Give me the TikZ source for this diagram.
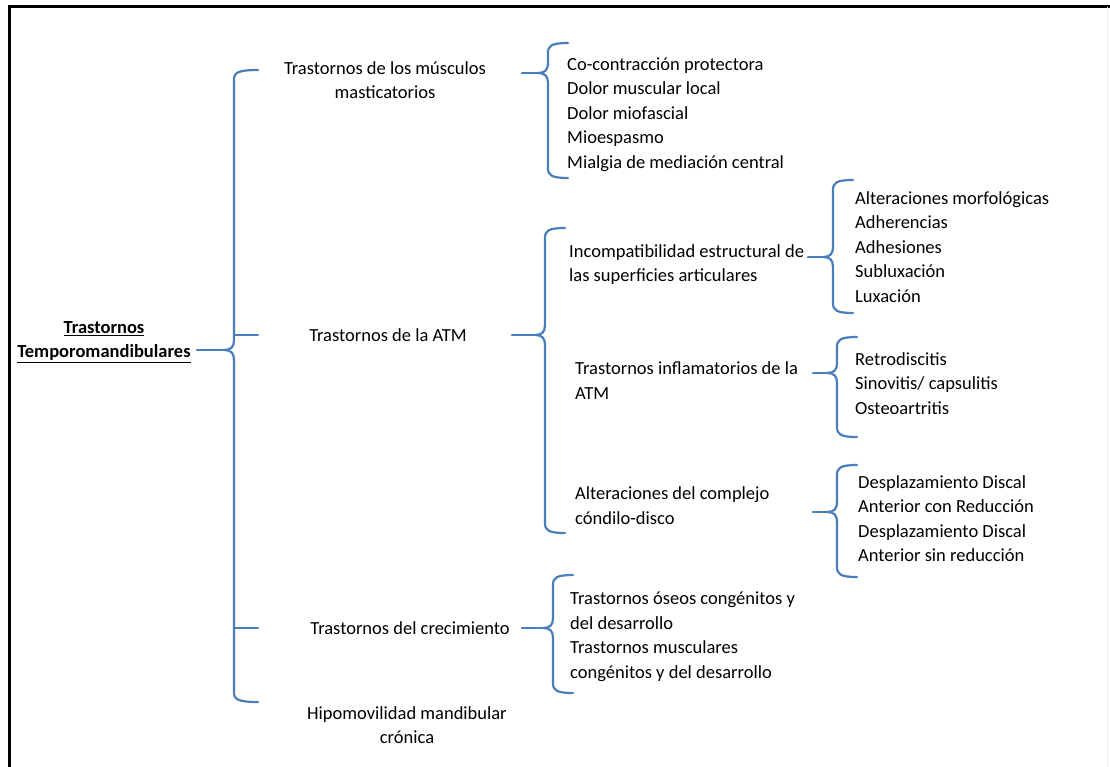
\documentclass[tikz,border=0pt]{standalone}
\usepackage{fontspec}
\setmainfont{Carlito}
\definecolor{braceblue}{HTML}{4A7EBB}

% curly brace: x, top, bottom, cusp, hook length
\newcommand{\curly}[5]{%
  \draw[brace] ({#1+#5},#2) .. controls ({#1+3},#2) and (#1,{#2+3}) .. (#1,{#2+10})
    -- (#1,{#4-10}) .. controls (#1,{#4-3}) and ({#1-3},#4) .. ({#1-10},#4)
    .. controls ({#1-3},#4) and (#1,{#4+3}) .. (#1,{#4+10})
    -- (#1,{#3-10}) .. controls (#1,{#3-3}) and ({#1+3},#3) .. ({#1+#5},#3);}

\begin{document}
\begin{tikzpicture}[x=1pt,y=-1pt,
    brace/.style={draw=braceblue,line width=2.2pt,line cap=round,line join=round},
    plain/.style={font=\fontsize{18.5}{24.5}\selectfont,inner sep=0pt},
    heading/.style={plain,align=center},
    itemlist/.style={plain,align=left,anchor=west}]
    \useasboundingbox (0,0) rectangle (1110,767);

    % Draw the frame
    \draw[line width=3pt] (9,780) -- (9,7) -- (1120,7);
    \draw[black!6,line width=0.8pt] (1107,7) -- (1107,780);

    % Root
    \node[heading,font=\fontsize{18.5}{24.5}\selectfont\bfseries] (root) at (104,342)
        {\underline{Trastornos}\\\underline{Temporomandibulares}};

    % Main brace
    \curly{234}{70}{702}{350}{24}
    \coordinate (roottip) at (224,350);
    \coordinate (rootfrom) at (197,350);
    \draw[brace] (rootfrom) -- (roottip);
    \draw[brace] (234,335) -- (258,335);
    \draw[brace] (234,628) -- (258,628);

    % First level
    \node[heading] (mus) at (385,80) {Trastornos de los músculos\\masticatorios};
    \node[heading] (atm) at (388,335) {Trastornos de la ATM};
    \node[heading] (cre) at (410,628) {Trastornos del crecimiento};
    \node[heading] (hip) at (407,725) {Hipomovilidad mandibular\\crónica};

    % Muscles
    \curly{548}{43}{178}{73}{20}
    \coordinate (mustip) at (538,73);
    \coordinate (musfrom) at (522,73);
    \draw[brace] (musfrom) -- (mustip);
    \node[itemlist] (muslist) at (567,114.5) {Co-contracción protectora\\Dolor muscular local\\Dolor miofascial\\Mioespasmo\\Mialgia de mediación central};

    % ATM
    \curly{545}{228}{533}{335}{20}
    \coordinate (atmtip) at (535,335);
    \coordinate (atmfrom) at (512,335);
    \draw[brace] (atmfrom) -- (atmtip);

    \node[itemlist] (inc) at (569,264.5) {Incompatibilidad estructural de\\las superficies articulares};
    \node[itemlist] (inf) at (575,380.5) {Trastornos inflamatorios de la\\ATM};
    \node[itemlist] (cond) at (575,505.5) {Alteraciones del complejo\\cóndilo-disco};

    % Incompatibilidad
    \curly{833}{180}{313}{257}{20}
    \coordinate (inctip) at (823,257);
    \coordinate (incfrom) at (808,257);
    \draw[brace] (incfrom) -- (inctip);
    \node[itemlist] (inclist) at (855,247) {Alteraciones morfológicas\\Adherencias\\Adhesiones\\Subluxación\\Luxación};

    % Inflamatorios
    \curly{837}{337}{437}{373}{20}
    \coordinate (inftip) at (827,373);
    \coordinate (inffrom) at (813,373);
    \draw[brace] (inffrom) -- (inftip);
    \node[itemlist] (inflist) at (855,383.5) {Retrodiscitis\\Sinovitis/ capsulitis\\Osteoartritis};

    % Condilo-disco
    \curly{837}{465}{577}{512}{20}
    \coordinate (condtip) at (827,512);
    \coordinate (condfrom) at (813,512);
    \draw[brace] (condfrom) -- (condtip);
    \node[itemlist] (condlist) at (858,518.5) {Desplazamiento Discal\\Anterior con Reducción\\Desplazamiento Discal\\Anterior sin reducción};

    % Crecimiento
    \curly{553}{575}{693}{628}{20}
    \coordinate (cretip) at (543,628);
    \coordinate (crefrom) at (522,628);
    \draw[brace] (crefrom) -- (cretip);
    \node[itemlist] (crelist) at (570,636.5) {Trastornos óseos congénitos y\\del desarrollo\\Trastornos musculares\\congénitos y del desarrollo};

\end{tikzpicture}
\end{document}
